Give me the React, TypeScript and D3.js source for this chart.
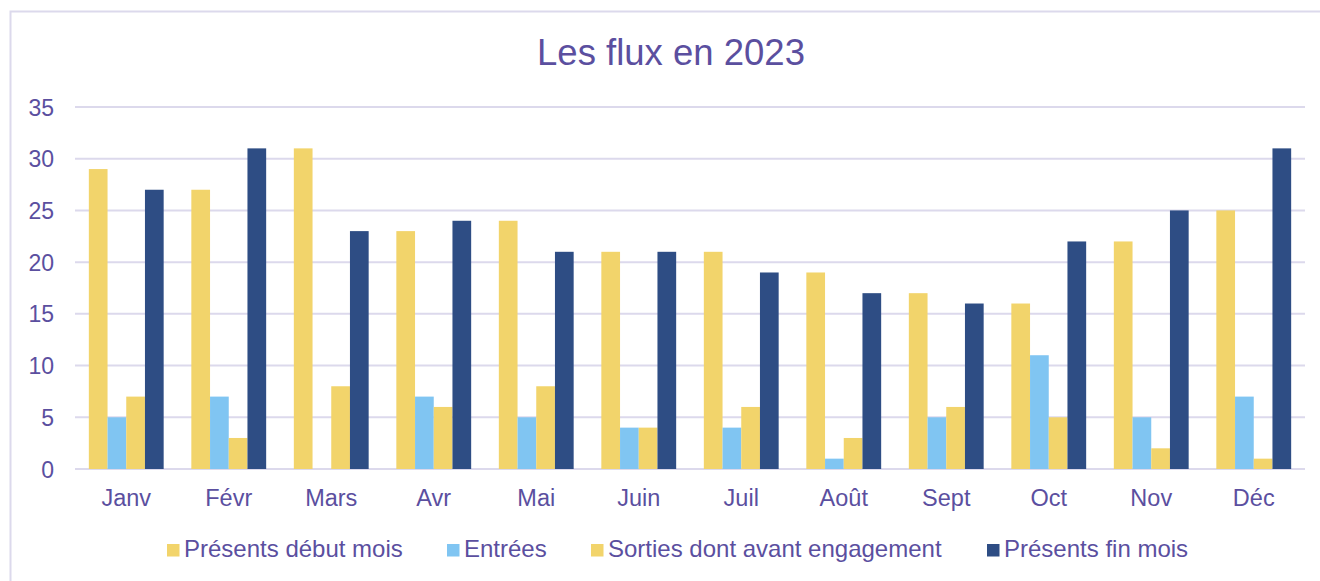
import React from "react";
import * as d3 from "d3";

const months = ["Janv", "Févr", "Mars", "Avr", "Mai", "Juin", "Juil", "Août", "Sept", "Oct", "Nov", "Déc"];
const seriesNames = ["Présents début mois", "Entrées", "Sorties dont avant engagement", "Présents fin mois"];
const presentsDebut = [29, 27, 31, 23, 24, 21, 21, 19, 17, 16, 22, 25];
const entrees = [5, 7, 0, 7, 5, 4, 4, 1, 5, 11, 5, 7];
const sorties = [7, 3, 8, 6, 8, 4, 6, 3, 6, 5, 2, 1];
const presentsFin = [27, 31, 23, 24, 21, 21, 19, 17, 16, 22, 25, 31];
const yTicks = [0, 5, 10, 15, 20, 25, 30, 35];
const colors = ["#f2d46b", "#80c5f2", "#f2d46b", "#2e4d84"];

const W = 1320;
const H = 581;
const textColor = "#5b4f9f";
const gridColor = "#dcd9ec";
const font = "'Liberation Sans', Arial, sans-serif";

export default function App() {
  const values = [presentsDebut, entrees, sorties, presentsFin];
  const x = d3.scaleBand<string>().domain(months).range([75, 1305]).padding(0);
  const groupW = x.bandwidth() * 0.73;
  const xs = d3.scaleBand<string>().domain(seriesNames).range([0, groupW]).padding(0);
  const y = d3.scaleLinear().domain([0, 35]).range([469, 107]);

  const legendX = [167, 447, 591, 987];

  return (
    <svg width={W} height={H} style={{ position: "absolute", left: 0, top: 0, background: "#fff" }} fontFamily={font}>
      <rect x={10.5} y={11.5} width={1330} height={600} fill="#fff" stroke={gridColor} strokeWidth={2} />
      <text x={671} y={65} textAnchor="middle" fontSize={36.5} fill={textColor}>Les flux en 2023</text>
      {yTicks.map((t) => (
        <g key={t}>
          <line x1={75} x2={1305} y1={y(t)} y2={y(t)} stroke={gridColor} strokeWidth={2} />
          <text x={54} y={y(t) + 8.5} textAnchor="end" fontSize={23} fill={textColor}>{t}</text>
        </g>
      ))}
      {months.map((m, i) => {
        const gx = (x(m) as number) + (x.bandwidth() - groupW) / 2;
        return (
          <g key={m}>
            {seriesNames.map((s, j) => {
              const v = values[j][i];
              return (
                <rect key={s} x={gx + (xs(s) as number)} y={y(v)} width={xs.bandwidth()} height={y(0) - y(v)} fill={colors[j]} />
              );
            })}
            <text x={(x(m) as number) + x.bandwidth() / 2} y={506} textAnchor="middle" fontSize={23.5} fill={textColor}>{m}</text>
          </g>
        );
      })}
      {seriesNames.map((s, j) => (
        <g key={s}>
          <rect x={legendX[j]} y={544} width={12.5} height={12.5} fill={colors[j]} />
          <text x={legendX[j] + 17} y={557} fontSize={24} fill={textColor}>{s}</text>
        </g>
      ))}
    </svg>
  );
}
